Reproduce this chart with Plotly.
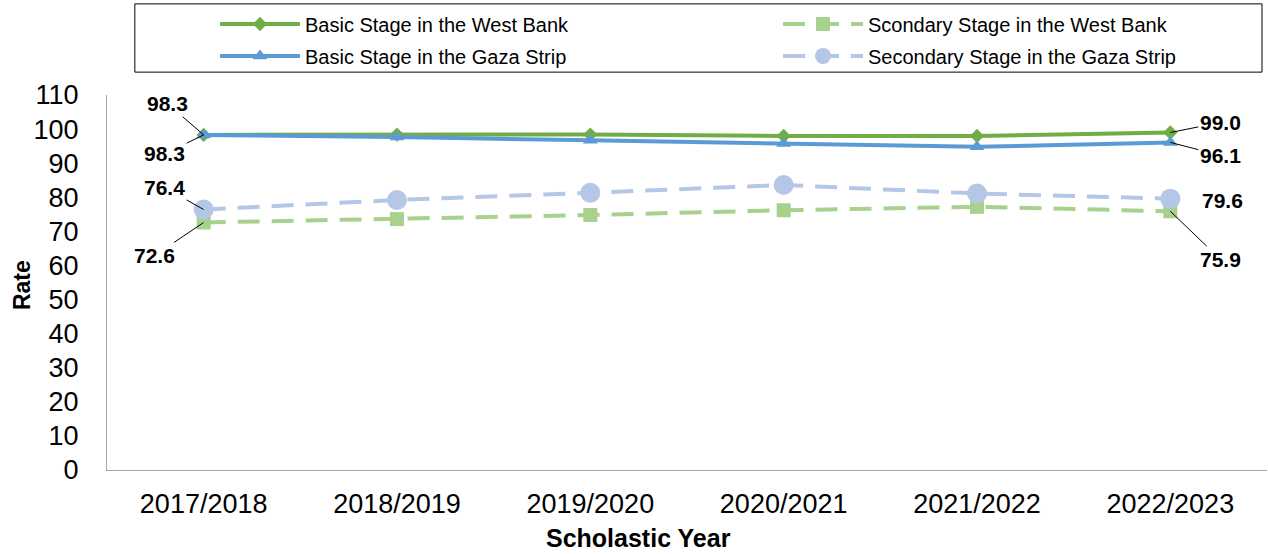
import plotly.graph_objects as go

years = ["2017/2018", "2018/2019", "2019/2020", "2020/2021", "2021/2022", "2022/2023"]
basic_wb = [98.3, 98.4, 98.4, 98.0, 98.0, 99.0]
basic_gaza = [98.3, 97.7, 96.7, 95.8, 94.8, 96.1]
sec_wb = [72.6, 73.6, 74.8, 76.2, 77.2, 75.9]
sec_gaza = [76.4, 79.2, 81.3, 83.6, 81.1, 79.6]

FONT = "Liberation Sans, Arial, sans-serif"

fig = go.Figure()
fig.add_trace(go.Scatter(x=years, y=basic_wb, name="Basic Stage in the West Bank",
                         mode="lines+markers", legend="legend", showlegend=True,
                         line=dict(color="#70AD47", width=4),
                         marker=dict(symbol="diamond", size=11, color="#70AD47")))
fig.add_trace(go.Scatter(x=years, y=sec_wb, name="Scondary Stage in the West Bank",
                         mode="lines+markers", legend="legend2", showlegend=True,
                         line=dict(color="#A9D18E", width=4, dash="22px,12px"),
                         marker=dict(symbol="square", size=14, color="#A9D18E")))
fig.add_trace(go.Scatter(x=years, y=basic_gaza, name="Basic Stage in the Gaza Strip",
                         mode="lines+markers", legend="legend3", showlegend=True,
                         line=dict(color="#5B9BD5", width=4),
                         marker=dict(symbol="triangle-up", size=13, color="#5B9BD5")))
fig.add_trace(go.Scatter(x=years, y=sec_gaza, name="Secondary Stage in the Gaza Strip",
                         mode="lines+markers", legend="legend4", showlegend=True,
                         line=dict(color="#B4C7E7", width=4, dash="22px,12px"),
                         marker=dict(symbol="circle", size=20, color="#B4C7E7")))

# data labels on first and last points (text offset in px from point)
labels = [
    (years[0], basic_wb[0], -36, -31, True),
    (years[0], basic_gaza[0], -39, 19, True),
    (years[0], sec_gaza[0], -39, -22, True),
    (years[0], sec_wb[0], -49, 33, True),
    (years[-1], basic_wb[-1], 50, -10, True),
    (years[-1], basic_gaza[-1], 50, 13, True),
    (years[-1], sec_gaza[-1], 52, 2, False),
    (years[-1], sec_wb[-1], 50, 48, True),
]
for x, y, ax, ay, arrow in labels:
    if arrow:
        fig.add_annotation(x=x, y=y, text=f"<b>{y:.1f}</b>", showarrow=True,
                           arrowhead=0, arrowwidth=1, arrowcolor="black",
                           ax=ax, ay=ay, font=dict(family=FONT, size=21, color="black"))
    else:
        fig.add_annotation(x=x, y=y, text=f"<b>{y:.1f}</b>", showarrow=False,
                           xshift=ax, yshift=-ay, font=dict(family=FONT, size=21, color="black"))

# axis titles
fig.add_annotation(x=0.458, y=-0.181, xref="paper", yref="paper", showarrow=False,
                   xanchor="center", yanchor="middle",
                   text="<b>Scholastic Year</b>", font=dict(family=FONT, size=25, color="black"))
fig.add_annotation(x=-0.0733, y=0.493, xref="paper", yref="paper", showarrow=False,
                   xanchor="center", yanchor="middle", textangle=-90,
                   text="<b>Rate</b>", font=dict(family=FONT, size=23, color="black"))

# legend frame
fig.add_shape(type="rect", xref="paper", yref="paper", x0=0.024, x1=0.9957, y0=1.061, y1=1.243,
              line=dict(color="black", width=1), fillcolor="rgba(0,0,0,0)")

def leg(xpx, ypx):
    # positions in pixels, relative to a plot area at x 107..1267, y 95..470
    return dict(xanchor="left", yanchor="middle", x=(xpx - 107) / 1160, y=(470 - ypx) / 375,
                itemwidth=80, bgcolor="rgba(0,0,0,0)",
                font=dict(family=FONT, size=20, color="black"))

fig.update_layout(
    width=1268, height=554, showlegend=True,
    margin=dict(l=107, r=1, t=95, b=84, autoexpand=False),
    plot_bgcolor="white", paper_bgcolor="white",
    font=dict(family=FONT, color="black"),
    legend=leg(215, 24), legend2=leg(778, 24),
    legend3=leg(215, 56), legend4=leg(778, 56),
    xaxis=dict(range=[-0.5, 5.5], showline=True, linecolor="#A6A6A6", linewidth=1,
               showgrid=False, ticks="", automargin=False,
               tickfont=dict(size=27, color="black"), ticklabelstandoff=10),
    yaxis=dict(range=[0, 110], dtick=10, showline=True, linecolor="#A6A6A6", linewidth=1,
               showgrid=False, zeroline=False, ticks="", automargin=False,
               tickfont=dict(size=27, color="black"), ticklabelstandoff=22),
)

# drop the default 8px page margin so the figure fills the window
fig.write_html("out.html", config={"displayModeBar": False},
               post_script="document.body.style.margin='0';")
